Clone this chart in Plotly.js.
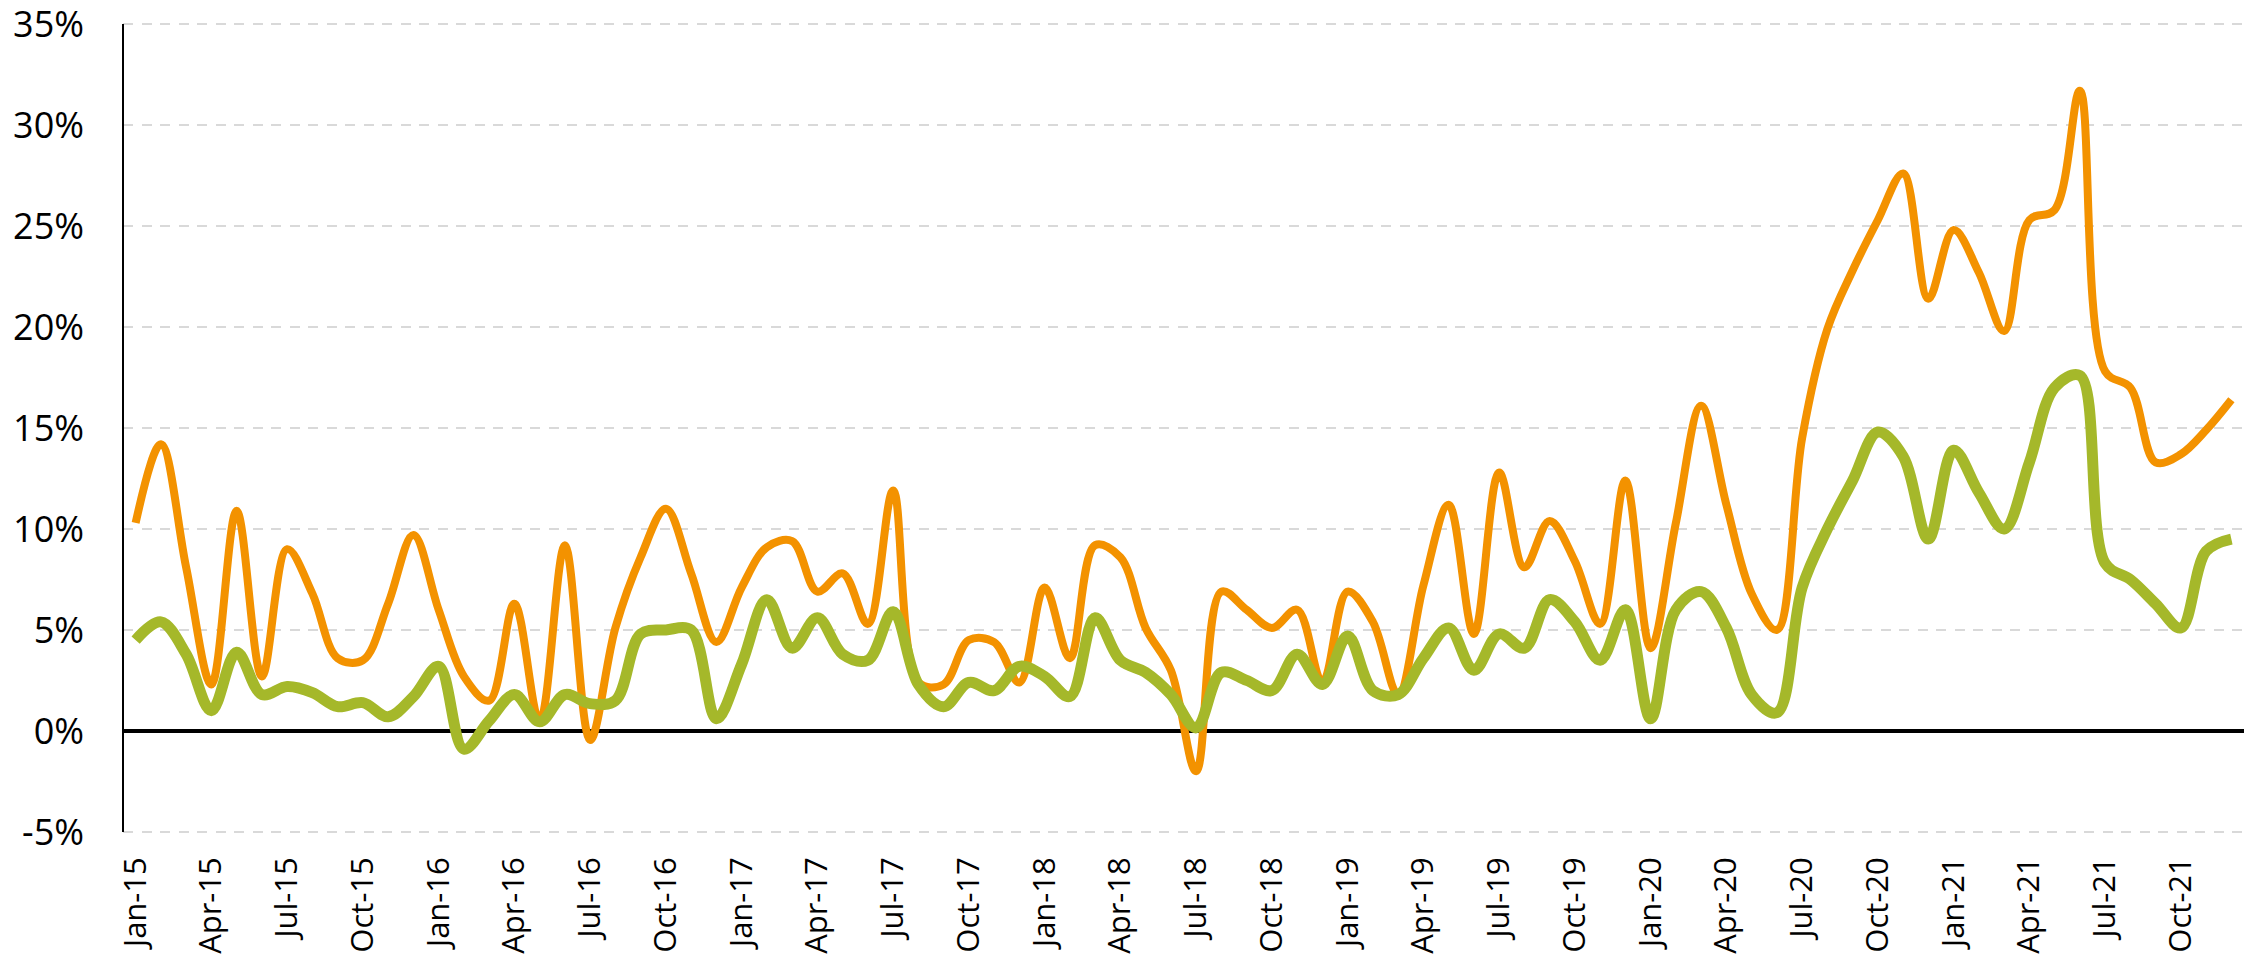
<!DOCTYPE html>
<html>
<head>
<meta charset="utf-8">
<script src="https://cdn.plot.ly/plotly-3.0.1.min.js"></script>
<style>
html, body { margin: 0; padding: 0; background: #ffffff; }
#chart { width: 2256px; height: 956px; }
</style>
</head>
<body>
<div id="chart"></div>
<script>
const months = [
  "Jan-15","Feb-15","Mar-15","Apr-15","May-15","Jun-15","Jul-15","Aug-15","Sep-15","Oct-15","Nov-15","Dec-15",
  "Jan-16","Feb-16","Mar-16","Apr-16","May-16","Jun-16","Jul-16","Aug-16","Sep-16","Oct-16","Nov-16","Dec-16",
  "Jan-17","Feb-17","Mar-17","Apr-17","May-17","Jun-17","Jul-17","Aug-17","Sep-17","Oct-17","Nov-17","Dec-17",
  "Jan-18","Feb-18","Mar-18","Apr-18","May-18","Jun-18","Jul-18","Aug-18","Sep-18","Oct-18","Nov-18","Dec-18",
  "Jan-19","Feb-19","Mar-19","Apr-19","May-19","Jun-19","Jul-19","Aug-19","Sep-19","Oct-19","Nov-19","Dec-19",
  "Jan-20","Feb-20","Mar-20","Apr-20","May-20","Jun-20","Jul-20","Aug-20","Sep-20","Oct-20","Nov-20","Dec-20",
  "Jan-21","Feb-21","Mar-21","Apr-21","May-21","Jun-21","Jul-21","Aug-21","Sep-21","Oct-21","Nov-21","Dec-21"
];

const orangeSeries = [
  10.3, 14.2, 8.1, 2.3, 10.9, 2.7, 9.0, 6.8, 3.6, 3.5, 6.3, 9.7,
  6.0, 2.7, 1.5, 6.3, 0.45, 9.2, -0.45, 5.1, 8.6, 11.0, 7.8, 4.4,
  7.1, 9.1, 9.4, 6.9, 7.8, 5.3, 11.9, 2.4, 2.3, 4.5, 4.4, 2.4,
  7.1, 3.6, 9.2, 8.6, 5.1, 3.0, -2.0, 6.9, 6.0, 5.1, 6.0, 2.4,
  6.9, 5.4, 1.8, 7.2, 11.2, 4.8, 12.8, 8.1, 10.4, 8.4, 5.3, 12.4,
  4.1, 10.3, 16.1, 11.2, 6.8, 5.0, 14.5, 19.9, 22.8, 25.3, 27.6, 21.4,
  24.8, 22.7, 19.8, 25.3, 25.8, 31.7, 17.8, 17.0, 13.3, 13.7, 14.9, 16.4
];

const greenSeries = [
  4.5, 5.4, 3.8, 1.0, 3.9, 1.8, 2.2, 1.9, 1.2, 1.4, 0.7, 1.7,
  3.2, -0.9, 0.5, 1.8, 0.45, 1.8, 1.35, 1.5, 4.8, 5.0, 5.0, 0.6,
  3.3, 6.5, 4.1, 5.6, 3.8, 3.5, 5.9, 2.3, 1.2, 2.4, 2.0, 3.2,
  2.7, 1.7, 5.6, 3.5, 2.9, 1.8, 0.15, 2.9, 2.5, 2.0, 3.8, 2.3,
  4.7, 2.0, 1.8, 3.6, 5.1, 3.0, 4.8, 4.1, 6.5, 5.4, 3.5, 6.0,
  0.6, 6.0, 6.9, 5.1, 1.8, 0.9, 7.1, 10.0, 12.4, 14.8, 13.6, 9.5,
  13.9, 11.8, 10.0, 13.3, 17.0, 17.6, 8.3, 7.5, 6.3, 5.1, 8.9, 9.5
];

const xTickLabels = [
  "Jan-15","Apr-15","Jul-15","Oct-15","Jan-16","Apr-16","Jul-16","Oct-16",
  "Jan-17","Apr-17","Jul-17","Oct-17","Jan-18","Apr-18","Jul-18","Oct-18",
  "Jan-19","Apr-19","Jul-19","Oct-19","Jan-20","Apr-20","Jul-20","Oct-20",
  "Jan-21","Apr-21","Jul-21","Oct-21"
];

const yTickValues = [-5, 0, 5, 10, 15, 20, 25, 30, 35];
const yTickLabels = ["-5%", "0%", "5%", "10%", "15%", "20%", "25%", "30%", "35%"];
const yMin = -5;
const yMax = 35;

const traces = [
  {
    type: "scatter",
    mode: "lines",
    x: months,
    y: orangeSeries,
    line: { color: "#F39200", width: 8, shape: "spline", smoothing: 1 },
    hoverinfo: "x+y",
    showlegend: false
  },
  {
    type: "scatter",
    mode: "lines",
    x: months,
    y: greenSeries,
    line: { color: "#A5B82A", width: 11, shape: "spline", smoothing: 1 },
    hoverinfo: "x+y",
    showlegend: false
  }
];

const layout = {
  width: 2256,
  height: 956,
  margin: { l: 123, r: 12, t: 14, b: 114, pad: 0 },
  paper_bgcolor: "#ffffff",
  plot_bgcolor: "#ffffff",
  font: { family: "Open Sans, sans-serif", color: "#000000" },
  showlegend: false,
  xaxis: {
    type: "category",
    categoryorder: "array",
    categoryarray: months,
    range: [-0.5, months.length - 0.5],
    tickmode: "array",
    tickvals: xTickLabels,
    ticktext: xTickLabels,
    tickangle: -90,
    tickfont: { family: "Open Sans, sans-serif", size: 31, color: "#000000" },
    ticks: "",
    ticklabelstandoff: 8,
    showgrid: false,
    showline: false,
    zeroline: false,
    fixedrange: true
  },
  yaxis: {
    range: [yMin - 0.5, yMax + 0.5],
    tickmode: "array",
    tickvals: yTickValues,
    ticktext: yTickLabels,
    tickfont: { family: "Open Sans, sans-serif", size: 36, color: "#000000" },
    ticks: "",
    ticklabelstandoff: 38,
    ticklabeloverflow: "allow",
    showgrid: true,
    gridcolor: "#D9D9D9",
    gridwidth: 2.5,
    griddash: "10px,8.5px",
    showline: false,
    zeroline: true,
    zerolinecolor: "#000000",
    zerolinewidth: 4,
    fixedrange: true
  },
  shapes: [
    {
      type: "line",
      xref: "paper", yref: "y",
      x0: 0, x1: 0, y0: yMin, y1: yMax,
      line: { color: "#000000", width: 2 },
      layer: "above"
    }
  ]
};

Plotly.newPlot("chart", traces, layout, { displayModeBar: false, staticPlot: true });
</script>
</body>
</html>
